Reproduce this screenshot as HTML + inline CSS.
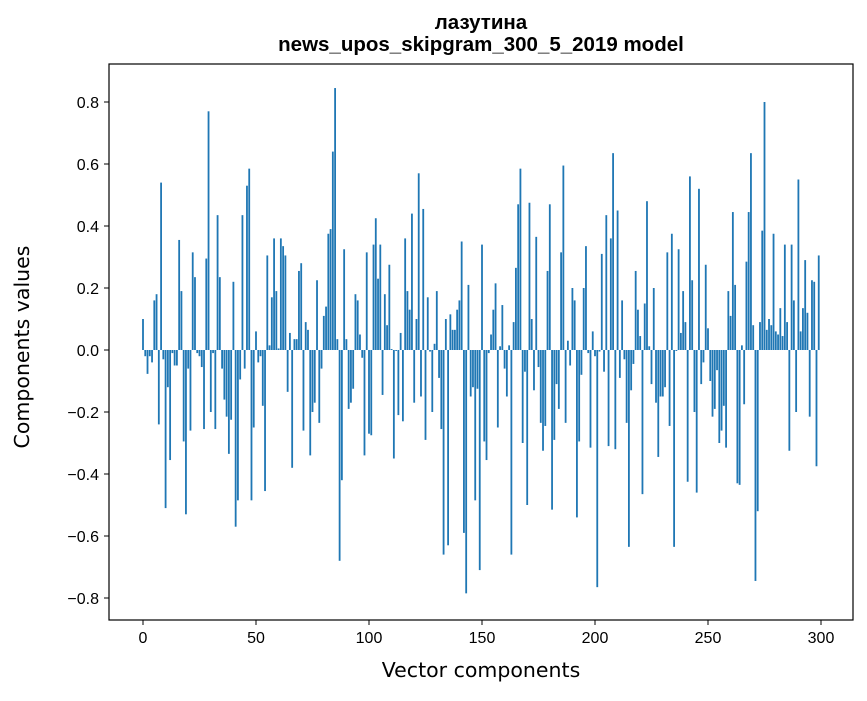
<!DOCTYPE html>
<html><head><meta charset="utf-8"><style>
body{margin:0;background:#fff}
svg text{font-family:"Liberation Sans","DejaVu Sans",sans-serif;fill:#000}
svg text.dv{font-family:"DejaVu Sans","Liberation Sans",sans-serif}
</style></head><body>
<svg id="chart" width="867" height="696" viewBox="0 0 867 696" xmlns="http://www.w3.org/2000/svg">
<rect width="867" height="696" fill="#fff"/>
<text x="481" y="29" text-anchor="middle" font-size="20.5" font-weight="bold">лазутина</text>
<text x="481" y="51" text-anchor="middle" font-size="20.5" font-weight="bold">news_upos_skipgram_300_5_2019 model</text>
<g id="bars"></g>
<g id="axes"></g>
<rect x="109" y="64" width="744" height="556" fill="none" stroke="#000" stroke-width="1.2"/>
<text class="dv" x="481" y="677" text-anchor="middle" font-size="20.5">Vector components</text>
<text class="dv" transform="translate(29,347) rotate(-90)" text-anchor="middle" font-size="20.5">Components values</text>
</svg>
<script>
const values = [
0.10,-0.02,-0.077,-0.02,-0.04,0.16,0.18,-0.24,0.54,-0.03,
-0.51,-0.12,-0.355,-0.01,-0.05,-0.05,0.355,0.19,-0.295,-0.53,
-0.06,-0.26,0.315,0.235,-0.01,-0.02,-0.055,-0.255,0.295,0.77,
-0.20,-0.01,-0.255,0.435,0.235,-0.06,-0.16,-0.215,-0.335,-0.225,
0.22,-0.57,-0.485,-0.095,0.435,-0.06,0.53,0.585,-0.485,-0.25,
0.06,-0.04,-0.02,-0.18,-0.455,0.305,0.015,0.17,0.36,0.19,
0.005,0.36,0.335,0.305,-0.135,0.055,-0.38,0.035,0.035,0.255,
0.28,-0.26,0.09,0.065,-0.34,-0.20,-0.17,0.225,-0.235,-0.06,
0.11,0.14,0.375,0.39,0.64,0.845,0.035,-0.68,-0.42,0.325,
0.035,-0.19,-0.17,-0.125,0.18,0.16,0.05,-0.025,-0.34,0.315,
-0.27,-0.275,0.34,0.425,0.23,0.34,-0.145,0.18,0.08,0.275,
0.003,-0.35,-0.003,-0.21,0.055,-0.23,0.36,0.19,0.13,0.44,
-0.17,0.10,0.57,-0.15,0.455,-0.29,0.17,-0.005,-0.2,0.02,
0.19,-0.09,-0.255,-0.66,0.10,-0.63,0.115,0.065,0.065,0.13,
0.16,0.35,-0.59,-0.785,0.21,-0.15,-0.12,-0.485,-0.125,-0.71,
0.34,-0.295,-0.355,-0.01,0.05,0.13,0.215,-0.25,0.012,0.145,
-0.06,-0.15,0.015,-0.66,0.09,0.265,0.47,0.585,-0.3,-0.07,
-0.5,0.475,0.10,-0.13,0.365,-0.055,-0.235,-0.325,-0.245,0.255,
0.47,-0.515,-0.29,-0.11,-0.19,0.315,0.595,-0.235,0.03,-0.05,
0.20,0.16,-0.54,-0.295,-0.08,0.2,0.335,-0.01,-0.315,0.06,
-0.02,-0.765,-0.005,0.31,-0.07,0.435,-0.31,0.36,0.635,-0.32,
0.45,-0.09,0.16,-0.03,-0.235,-0.635,-0.13,-0.045,0.255,0.13,
0.045,-0.465,0.15,0.48,0.012,-0.11,0.2,-0.17,-0.345,-0.15,
-0.15,-0.12,0.315,-0.245,0.375,-0.635,-0.003,0.325,0.055,0.19,
0.09,-0.425,0.56,0.225,-0.20,-0.46,0.52,-0.11,-0.04,0.275,
0.07,-0.10,-0.215,-0.19,-0.065,-0.3,-0.26,-0.18,-0.315,0.19,
0.11,0.445,0.21,-0.43,-0.435,0.015,-0.175,0.285,0.445,0.635,
0.08,-0.745,-0.52,0.09,0.385,0.8,0.065,0.10,0.08,0.375,
0.06,0.05,0.135,0.045,0.34,0.09,-0.325,0.34,0.16,-0.2,
0.55,0.06,0.135,0.29,0.12,-0.215,0.225,0.22,-0.375,0.305
];
const xTicks = [0,50,100,150,200,250,300];
const yTicks = [-0.8,-0.6,-0.4,-0.2,0.0,0.2,0.4,0.6,0.8];

const NS = "http://www.w3.org/2000/svg";
function xScale(i){ return 143 + i * (821 - 143) / 300; }
function yScale(v){ return 350 - v * 310; }
const barW = 0.8 * (821 - 143) / 300;

const bars = document.getElementById('bars');
values.forEach((v, i) => {
  const r = document.createElementNS(NS, 'rect');
  const y0 = yScale(0), y1 = yScale(v);
  r.setAttribute('x', xScale(i) - barW / 2);
  r.setAttribute('y', Math.min(y0, y1));
  r.setAttribute('width', barW);
  r.setAttribute('height', Math.max(Math.abs(y1 - y0), 0.3));
  r.setAttribute('fill', '#1f77b4');
  
  
  bars.appendChild(r);
});

const axes = document.getElementById('axes');
xTicks.forEach(t => {
  const x = xScale(t);
  const l = document.createElementNS(NS, 'line');
  l.setAttribute('x1', x); l.setAttribute('x2', x);
  l.setAttribute('y1', 620); l.setAttribute('y2', 625);
  l.setAttribute('stroke', '#000');
  
  
  axes.appendChild(l);
  const tx = document.createElementNS(NS, 'text');
  tx.setAttribute('x', x); tx.setAttribute('y', 643);
  tx.setAttribute('text-anchor', 'middle');
  tx.setAttribute('font-size', '16');
  tx.textContent = t;
  
  
  axes.appendChild(tx);
});
yTicks.forEach(t => {
  const y = yScale(t);
  const l = document.createElementNS(NS, 'line');
  l.setAttribute('x1', 104); l.setAttribute('x2', 109);
  l.setAttribute('y1', y); l.setAttribute('y2', y);
  l.setAttribute('stroke', '#000');
  
  
  axes.appendChild(l);
  const tx = document.createElementNS(NS, 'text');
  tx.setAttribute('x', 99); tx.setAttribute('y', y + 6);
  tx.setAttribute('text-anchor', 'end');
  tx.setAttribute('font-size', '16');
  tx.textContent = (t < 0 ? '\u2212' : '') + Math.abs(t).toFixed(1);
  
  
  axes.appendChild(tx);
});
</script>
</body></html>
